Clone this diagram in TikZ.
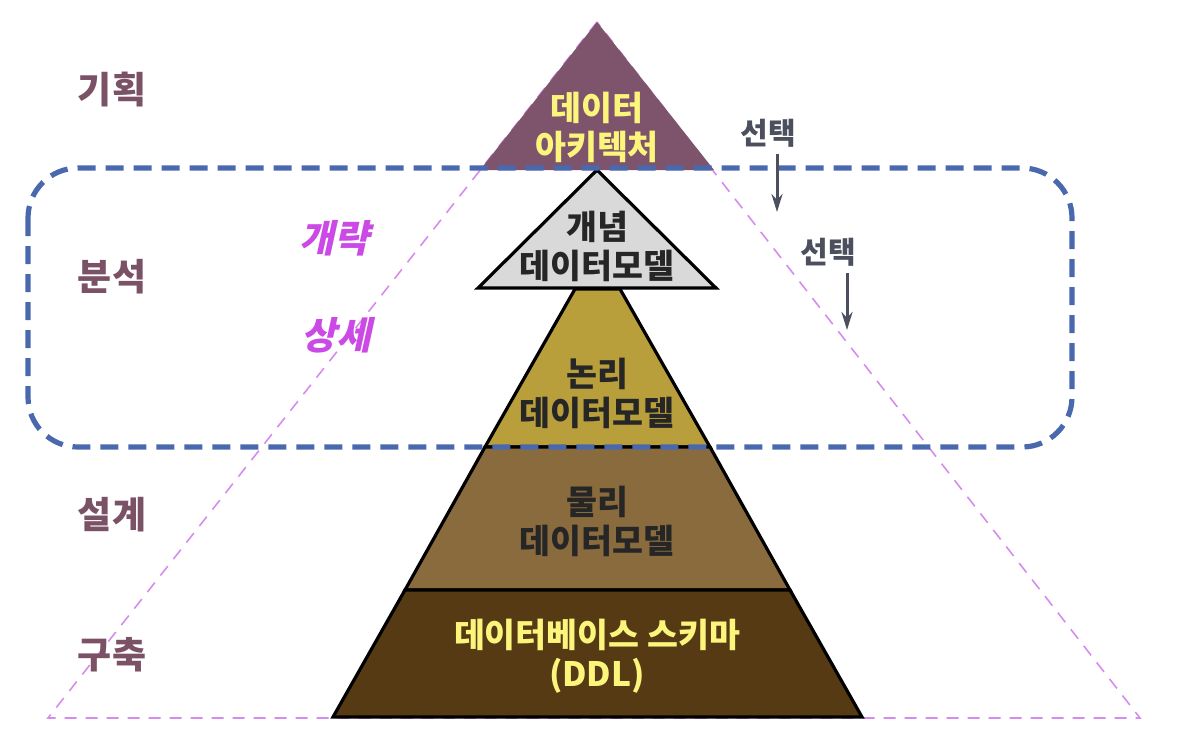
\documentclass[tikz,border=0pt]{standalone}
\usepackage{fontspec}
\setmainfont{Noto Sans CJK KR}
\newfontfamily\slantkr{Noto Sans CJK KR}[FakeSlant=0.22, BoldFeatures={FakeSlant=0.22}]
\usepackage{xcolor}
\usepackage{tikz}
\usetikzlibrary{arrows.meta}

\definecolor{stagecol}{HTML}{7A5165}
\definecolor{detailcol}{HTML}{CB4AE6}
\definecolor{choicecol}{HTML}{4B4F5E}
\definecolor{archcol}{HTML}{7D546C}
\definecolor{conccol}{HTML}{D9D9D9}
\definecolor{logicol}{HTML}{B89F3C}
\definecolor{physcol}{HTML}{8A6B3D}
\definecolor{ddlcol}{HTML}{553A13}
\definecolor{yellowtxt}{HTML}{FBF57C}
\definecolor{boxcol}{HTML}{4A68AE}
\definecolor{guidecol}{HTML}{D68CEE}

\tikzset{
    layer/.style={draw=black, line width=1.6pt},
    layertext/.style={align=center, font=\bfseries\fontsize{16.8}{19.5}\selectfont},
    stage/.style={text=stagecol, font=\bfseries\fontsize{18.5}{22}\selectfont},
    detail/.style={text=detailcol, font=\slantkr\bfseries\fontsize{19}{22}\selectfont},
    choice/.style={text=choicecol, font=\bfseries\fontsize{15}{18}\selectfont},
}

\begin{document}
\begin{tikzpicture}[x=0.5pt, y=-0.5pt]
    \useasboundingbox (0,0) rectangle (1193,746);

    % Tam giac lon (net dut)
    \coordinate (top) at (597,22);
    \coordinate (gl) at (48,718);
    \coordinate (gr) at (1140,718);
    \draw [guidecol, line width=0.8pt, dash pattern=on 6pt off 4.5pt] (top) -- (gl) -- (gr) -- cycle;

    % Cac tang cua kim tu thap
    \fill [archcol] (top) -- (480,170) -- (714,170) -- cycle;
    \draw [layer, fill=conccol] (597,170) -- (716,288) -- (478,288) -- cycle;
    \draw [layer, fill=logicol] (575,289) -- (620,289) -- (710,447) -- (485,447) -- cycle;
    \draw [layer, fill=physcol] (485,447) -- (710,447) -- (790,590) -- (405,590) -- cycle;
    \draw [layer, fill=ddlcol] (405,590) -- (790,590) -- (862,717) -- (333,717) -- cycle;

    % Khung net dut
    \draw [boxcol, line width=2.6pt, dash pattern=on 9pt off 5pt, rounded corners=25pt]
        (28,168) rectangle (1072,447);

    % Chu trong kim tu thap
    \node [layertext, text=yellowtxt] (arch) at (597,127) {데이터\\아키텍처};
    \node [layertext, text=black!85] (conc) at (597,246) {개념\\데이터모델};
    \node [layertext, text=black!85] (logi) at (597,393) {논리\\데이터모델};
    \node [layertext, text=black!85] (phys) at (597,521) {물리\\데이터모델};
    \node [layertext, text=yellowtxt] (ddl) at (597,656) {데이터베이스 스키마\\(DDL)};

    % Cac giai doan
    \node [stage] (plan) at (112,90) {기획};
    \node [stage] (anal) at (112,277) {분석};
    \node [stage] (desg) at (112,515) {설계};
    \node [stage] (build) at (112,655) {구축};

    \node [detail] (rough) at (334,238) {개략};
    \node [detail] (fine) at (336,335) {상세};

    % Mui ten
    \node [choice] (sel1) at (768,133) {선택};
    \node [choice] (sel2) at (828,252) {선택};
    \coordinate (sel1e) at (777,212);
    \coordinate (sel2e) at (847,330);
    \begin{scope}[every path/.style={color=choicecol, line width=1.5pt}, >={Stealth[length=9pt,width=5.5pt]}]
    \draw [->] (sel1.south -| sel1e) -- (sel1e);
    \draw [->] (sel2.south -| sel2e) -- (sel2e);
    \end{scope}
\end{tikzpicture}
\end{document}
